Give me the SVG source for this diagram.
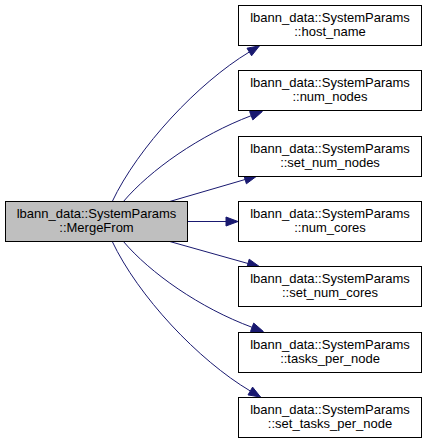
<svg xmlns="http://www.w3.org/2000/svg" width="427" height="443" viewBox="0 0 427 443">
<defs>
<style>
.box{fill:#ffffff;stroke:#000000;stroke-width:1}
.cur{fill:#bfbfbf;stroke:#000000;stroke-width:1}
text{font-family:"Liberation Sans",Arial,sans-serif;font-size:13px;fill:#000000;text-anchor:middle}
.edge{fill:none;stroke:#191970;stroke-width:1}
.head{fill:#191970;stroke:#191970;stroke-width:1}
</style>
</defs>
<rect width="427" height="443" fill="#ffffff"/>
<g id="edges">
<path class="edge" d="M112,202 C138,147 198,83 249.3,52"/>
<polygon class="head" points="251.6,55.8 259.5,45.8 247,48.2"/>
<path class="edge" d="M123,202 C150,170 200,135 251.2,115.7"/>
<polygon class="head" points="252.8,119.9 262.4,111.5 249.6,111.5"/>
<path class="edge" d="M168,202 L245.1,179.5"/>
<polygon class="head" points="246.4,183.8 256.6,176.2 243.8,175.2"/>
<path class="edge" d="M188,221.5 L226,221.5"/>
<polygon class="head" points="226,217 238,221.5 226,226"/>
<path class="edge" d="M168,241 L248,263.5"/>
<polygon class="head" points="246.8,267.8 259.6,266.7 249.2,259.2"/>
<path class="edge" d="M123,241 C150,273 200,308 252.1,327.3"/>
<polygon class="head" points="250.5,331.5 263.4,331.5 253.7,323.1"/>
<path class="edge" d="M112,241 C138,296 198,360 250.3,391"/>
<polygon class="head" points="248,394.9 260.6,397.1 252.6,387.1"/>
</g>
<g id="node_MergeFrom">
<rect class="cur" x="5.5" y="201.5" width="182" height="40"/>
<text x="96.5" y="218">lbann_data::SystemParams</text>
<text x="96.5" y="232">::MergeFrom</text>
</g>
<g id="node_host_name">
<rect class="box" x="238.5" y="5.5" width="183" height="40"/>
<text x="330" y="22">lbann_data::SystemParams</text>
<text x="330" y="36">::host_name</text>
</g>
<g id="node_num_nodes">
<rect class="box" x="238.5" y="70.5" width="183" height="40"/>
<text x="330" y="87">lbann_data::SystemParams</text>
<text x="330" y="101">::num_nodes</text>
</g>
<g id="node_set_num_nodes">
<rect class="box" x="238.5" y="136.5" width="183" height="40"/>
<text x="330" y="153">lbann_data::SystemParams</text>
<text x="330" y="167">::set_num_nodes</text>
</g>
<g id="node_num_cores">
<rect class="box" x="238.5" y="201.5" width="183" height="40"/>
<text x="330" y="218">lbann_data::SystemParams</text>
<text x="330" y="232">::num_cores</text>
</g>
<g id="node_set_num_cores">
<rect class="box" x="238.5" y="266.5" width="183" height="40"/>
<text x="330" y="283">lbann_data::SystemParams</text>
<text x="330" y="297">::set_num_cores</text>
</g>
<g id="node_tasks_per_node">
<rect class="box" x="238.5" y="332.5" width="183" height="40"/>
<text x="330" y="349">lbann_data::SystemParams</text>
<text x="330" y="363">::tasks_per_node</text>
</g>
<g id="node_set_tasks_per_node">
<rect class="box" x="238.5" y="397.5" width="183" height="40"/>
<text x="330" y="414">lbann_data::SystemParams</text>
<text x="330" y="428">::set_tasks_per_node</text>
</g>
</svg>
